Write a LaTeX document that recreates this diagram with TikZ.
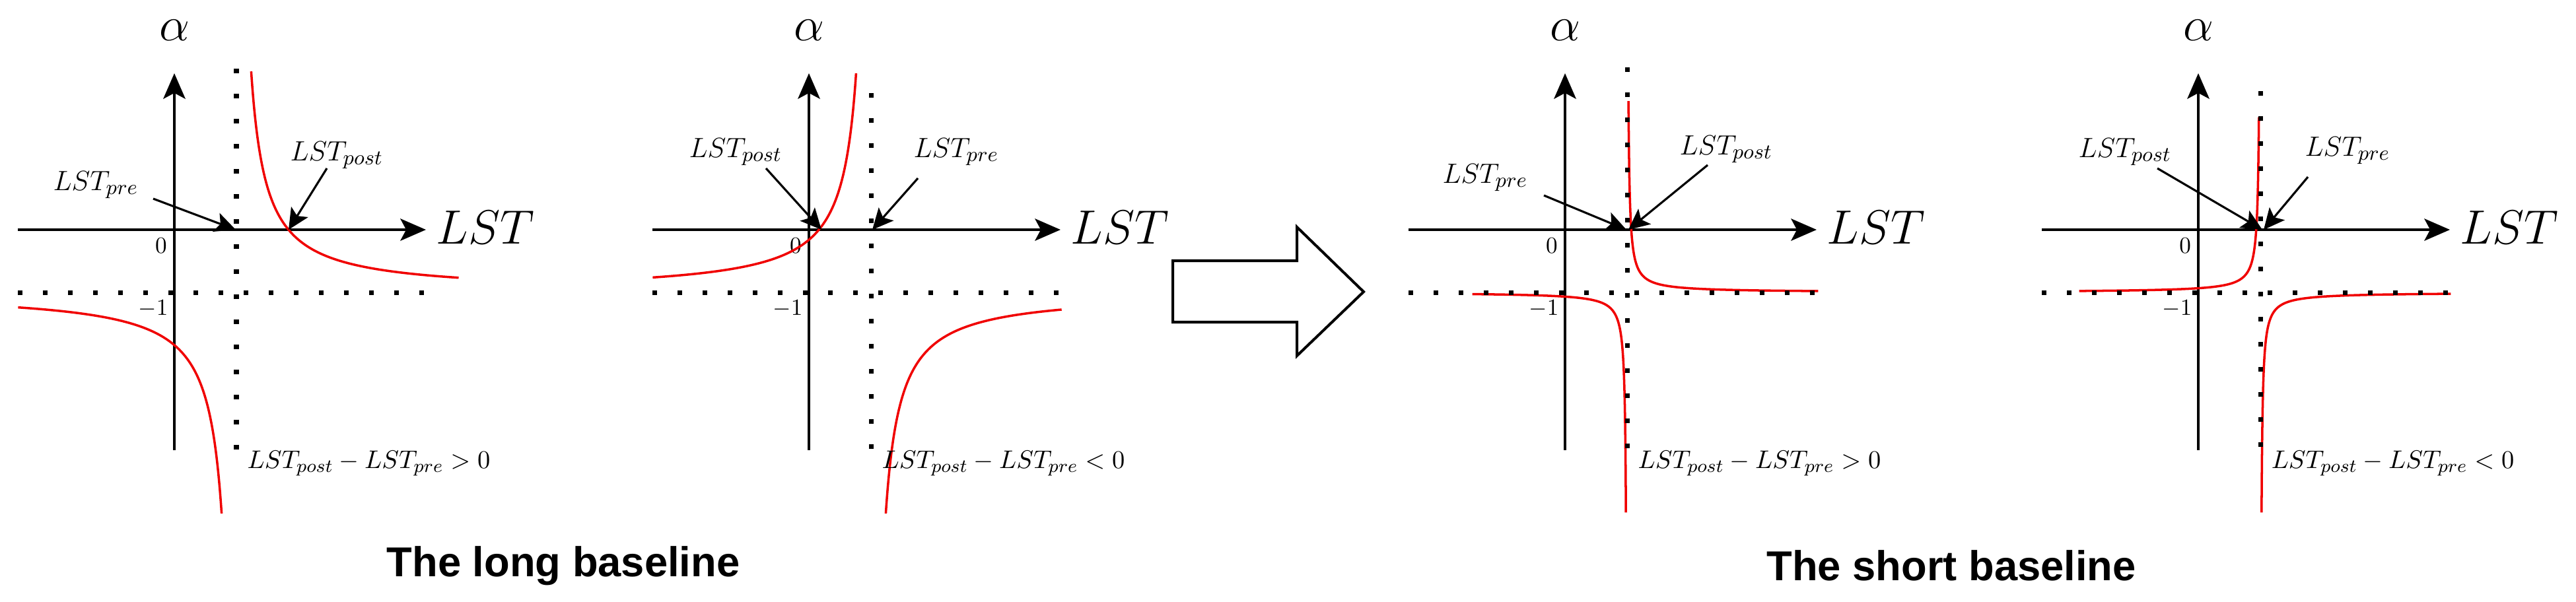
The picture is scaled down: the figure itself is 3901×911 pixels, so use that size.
\documentclass[tikz,border=0pt]{standalone}
\usepackage{fontspec}
\newfontfamily\titlefont{Liberation Sans}
\usetikzlibrary{arrows.meta}
\definecolor{redc}{RGB}{240,0,0}
\newcommand\hyp[5]{\draw[curve] plot[domain=0:1,samples=160,variable=\s] ({94+(#1)*(#4)*exp(\s*ln((#5)/(#4)))},{443+(#2)*(#3)/((#4)*exp(\s*ln((#5)/(#4))))});}
\tikzset{
  axis/.style={line width=1.15pt,-{Stealth[length=11pt,width=9.5pt,inset=2.5pt]}},
  pointer/.style={line width=0.9pt,-{Stealth[length=9pt,width=8.5pt,inset=2pt]}},
  curve/.style={redc,line width=1pt},
  dots/.style={line width=2pt,dash pattern=on 2pt off 8.8pt},
  lbl/.style={font=\fontsize{12.5}{14}\selectfont,inner sep=0pt},
  big/.style={font=\fontsize{21}{25}\selectfont,inner sep=0pt},
  num/.style={font=\fontsize{10}{12}\selectfont,inner sep=0pt},
  cond/.style={font=\fontsize{11}{13}\selectfont,inner sep=0pt,anchor=west},
  title/.style={font=\titlefont\bfseries\fontsize{18}{21}\selectfont,inner sep=0pt}
}
\begin{document}
\begin{tikzpicture}[x={(0.01cm,0)},y={(0,-0.01cm)}]
\useasboundingbox (0,0) rectangle (3901,911);
% ---------- panel 1 ----------
\begin{scope}[shift={(264,0)}]
  \draw[axis] (-237,348) -- (381,348);
  \draw[axis] (0,682) -- (0,111);
  \node[big] (a1) at (0,46) {$\alpha$};
  \node[big] (x1) at (471,345) {$LST$};
  \node[num] (z1) at (-20,372) {$0$};
  \node[num] (m1) at (-32,468) {$-1$};
  \hyp{1}{-1}{7500}{22.4}{337}
  \hyp{-1}{1}{7500}{22.4}{331}
  \draw[dots] (94,104) -- (94,690);
  \draw[dots] (-237,443) -- (381,443);
  \node[lbl] (pre1) at (-119,280) {$LST_{pre}$};
  \node[lbl] (post1) at (246,235) {$LST_{post}$};
  \coordinate (pre1s) at (-32,301); \coordinate (pre1e) at (93,348);
  \coordinate (post1s) at (231,255); \coordinate (post1e) at (173,348);
  \draw[pointer] (pre1s) -- (pre1e);
  \draw[pointer] (post1s) -- (post1e);
  \node[cond] (c1) at (110,702) {$LST_{post}-LST_{pre}>0$};
\end{scope}
% ---------- panel 2 ----------
\begin{scope}[shift={(1225,0)}]
  \draw[axis] (-237,348) -- (381,348);
  \draw[axis] (0,682) -- (0,111);
  \node[big] (a2) at (0,46) {$\alpha$};
  \node[big] (x2) at (471,345) {$LST$};
  \node[num] (z2) at (-20,372) {$0$};
  \node[num] (m2) at (-32,468) {$-1$};
  \hyp{-1}{-1}{7500}{22.6}{331}
  \hyp{1}{1}{7500}{22.4}{289}
  \draw[dots] (94,141) -- (94,690);
  \draw[dots] (-237,443) -- (381,443);
  \node[lbl] (post2) at (-111,230) {$LST_{post}$};
  \node[lbl] (pre2) at (223,230) {$LST_{pre}$};
  \coordinate (post2s) at (-65,255); \coordinate (post2e) at (19,348);
  \coordinate (pre2s) at (165,270); \coordinate (pre2e) at (96,348);
  \draw[pointer] (post2s) -- (post2e);
  \draw[pointer] (pre2s) -- (pre2e);
  \node[cond] (c2) at (110,702) {$LST_{post}-LST_{pre}<0$};
\end{scope}
% ---------- block arrow ----------
\draw[line width=1.15pt,line join=miter] (1776,395) -- (1964,395) -- (1964,344) -- (2065,442) -- (1964,539) -- (1964,488) -- (1776,488) -- cycle;
% ---------- panel 3 ----------
\begin{scope}[shift={(2370,0)}]
  \draw[axis] (-237,348) -- (381,348);
  \draw[axis] (0,682) -- (0,111);
  \node[big] (a3) at (0,46) {$\alpha$};
  \node[big] (x3) at (471,345) {$LST$};
  \node[num] (z3) at (-20,372) {$0$};
  \node[num] (m3) at (-32,468) {$-1$};
  \hyp{1}{-1}{600}{2.07}{290}
  \hyp{-1}{1}{600}{1.8}{235}
  \draw[dots] (94,102) -- (94,690);
  \draw[dots] (-237,443) -- (381,443);
  \node[lbl] (pre3) at (-121,269) {$LST_{pre}$};
  \node[lbl] (post3) at (244,226) {$LST_{post}$};
  \coordinate (pre3s) at (-32,296); \coordinate (pre3e) at (93,348);
  \coordinate (post3s) at (216,250); \coordinate (post3e) at (96,348);
  \draw[pointer] (pre3s) -- (pre3e);
  \draw[pointer] (post3s) -- (post3e);
  \node[cond] (c3) at (110,702) {$LST_{post}-LST_{pre}>0$};
\end{scope}
% ---------- panel 4 ----------
\begin{scope}[shift={(3329,0)}]
  \draw[axis] (-237,348) -- (381,348);
  \draw[axis] (0,682) -- (0,111);
  \node[big] (a4) at (0,46) {$\alpha$};
  \node[big] (x4) at (471,345) {$LST$};
  \node[num] (z4) at (-20,372) {$0$};
  \node[num] (m4) at (-32,468) {$-1$};
  \hyp{-1}{-1}{600}{2.26}{275}
  \hyp{1}{1}{600}{1.8}{289}
  \draw[dots] (94,138) -- (94,690);
  \draw[dots] (-237,443) -- (381,443);
  \node[lbl] (post4) at (-111,230) {$LST_{post}$};
  \node[lbl] (pre4) at (226,228) {$LST_{pre}$};
  \coordinate (post4s) at (-62,255); \coordinate (post4e) at (97,348);
  \coordinate (pre4s) at (166,268); \coordinate (pre4e) at (99,348);
  \draw[pointer] (post4s) -- (post4e);
  \draw[pointer] (pre4s) -- (pre4e);
  \node[cond] (c4) at (110,702) {$LST_{post}-LST_{pre}<0$};
\end{scope}
% ---------- titles ----------
\node[title] (t1) at (853,857) {The long baseline};
\node[title] (t2) at (2955,857) {The short baseline};
\end{tikzpicture}
\end{document}
